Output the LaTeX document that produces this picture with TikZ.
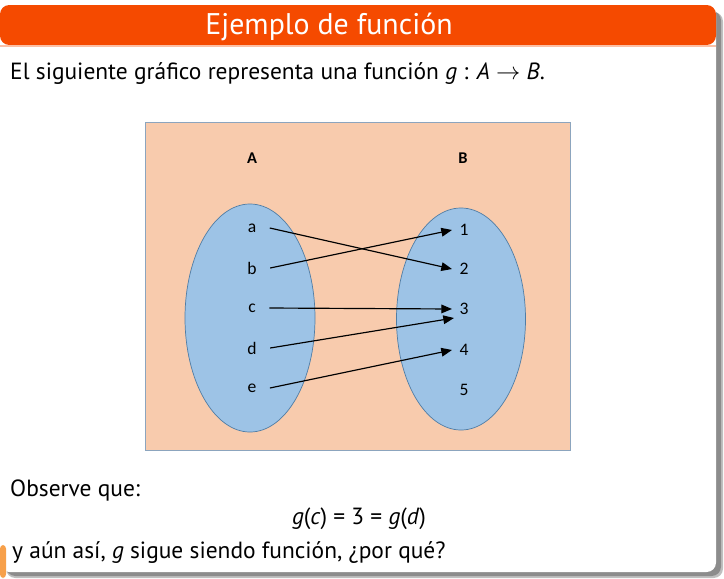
\documentclass[tikz,border=0pt]{standalone}
\usepackage{fontspec}
\setmainfont{PT Sans}
\newfontfamily\diagfont{Carlito}
\usetikzlibrary{arrows.meta, positioning, shapes.geometric, calc}

\definecolor{titleorange}{RGB}{245,74,0}
\definecolor{footorange}{RGB}{247,160,74}
\definecolor{peach}{RGB}{248,203,173}
\definecolor{setfill}{RGB}{157,195,230}
\definecolor{setedge}{RGB}{80,125,165}
\definecolor{paneledge}{RGB}{140,165,190}

\begin{document}
\begin{tikzpicture}[
    x=0.03cm, y=-0.03cm,
    slidetext/.style={anchor=base west, inner sep=0pt,
                      font=\fontsize{20}{24}\selectfont},
    setname/.style={font=\diagfont\bfseries\fontsize{14}{16}\selectfont},
    elem/.style={font=\diagfont\fontsize{15}{17}\selectfont, inner ysep=2pt},
    dom/.style={elem, inner xsep=0.4cm},
    cod/.style={elem, inner xsep=0.22cm},
    conj/.style={ellipse, draw=setedge, fill=setfill, line width=0.6pt},
    maparrow/.style={-{Triangle[length=3.2mm, width=2.6mm]}, line width=1pt},
    >=Stealth
  ]
  \useasboundingbox (0,0) rectangle (724,578);

  % slide block with shadow
  \fill[black!25, rounded corners=8] (6,12) rectangle (723,578);
  \fill[black!45, rounded corners=8] (6,11) rectangle (721,576);
  \fill[white, rounded corners=8] (0,5) rectangle (716,572);
  \fill[titleorange, rounded corners=8] (0,45) |- (716,5) -- (716,45) -- cycle;
  \fill[titleorange!35] (0,45) rectangle (716,47);
  \fill[footorange, rounded corners=3] (0,578) |- (6,545) -- (6,578) -- cycle;

  \node[text=white, font=\fontsize{25.5}{30}\selectfont, inner sep=0pt,
        anchor=base] (title) at (329,34) {Ejemplo de función};

  \node[slidetext] (intro) at (10,79)
    {El siguiente gráfico representa una función \textit{g} : \textit{A} $\rightarrow$ \textit{B}.};

  % diagram panel
  \node[draw=paneledge, fill=peach, line width=0.6pt, inner sep=0pt,
        minimum width=12.75cm, minimum height=9.84cm] (panel) at (357.5,286) {};

  \node[conj, minimum width=3.9cm, minimum height=6.84cm] (setA) at (250,318) {};
  \node[conj, minimum width=3.87cm, minimum height=6.66cm] (setB) at (461,319) {};

  \node[setname] (nameA) at (252,158) {A};
  \node[setname] (nameB) at (463,158) {B};

  \foreach \e/\y in {a/228, b/268, c/308, d/348, e/388}
    \node[dom] (\e) at (252,\y) {\e};
  \foreach \n/\y in {1/230, 2/269, 3/309, 4/350, 5/390}
    \node[cod] (n\n) at (464,\y) {\n};

  \draw[maparrow] (a.east) -- (n2.west);
  \draw[maparrow] (b.east) -- (n1.west);
  \draw[maparrow] (c.east) -- (n3.west);
  \draw[maparrow] (d.east) -- ($(n3.west)+(2,9)$);
  \draw[maparrow] (e.east) -- (n4.west);

  % closing text
  \node[slidetext] (obs) at (10,496) {Observe que:};
  \node[anchor=base, inner sep=0pt, font=\fontsize{20}{24}\selectfont] (eq) at (359,524)
    {\textit{g}(\textit{c}) = 3 = \textit{g}(\textit{d})};
  \node[slidetext] (question) at (12,558)
    {y aún así, \textit{g} sigue siendo función, ¿por qué?};
\end{tikzpicture}
\end{document}
